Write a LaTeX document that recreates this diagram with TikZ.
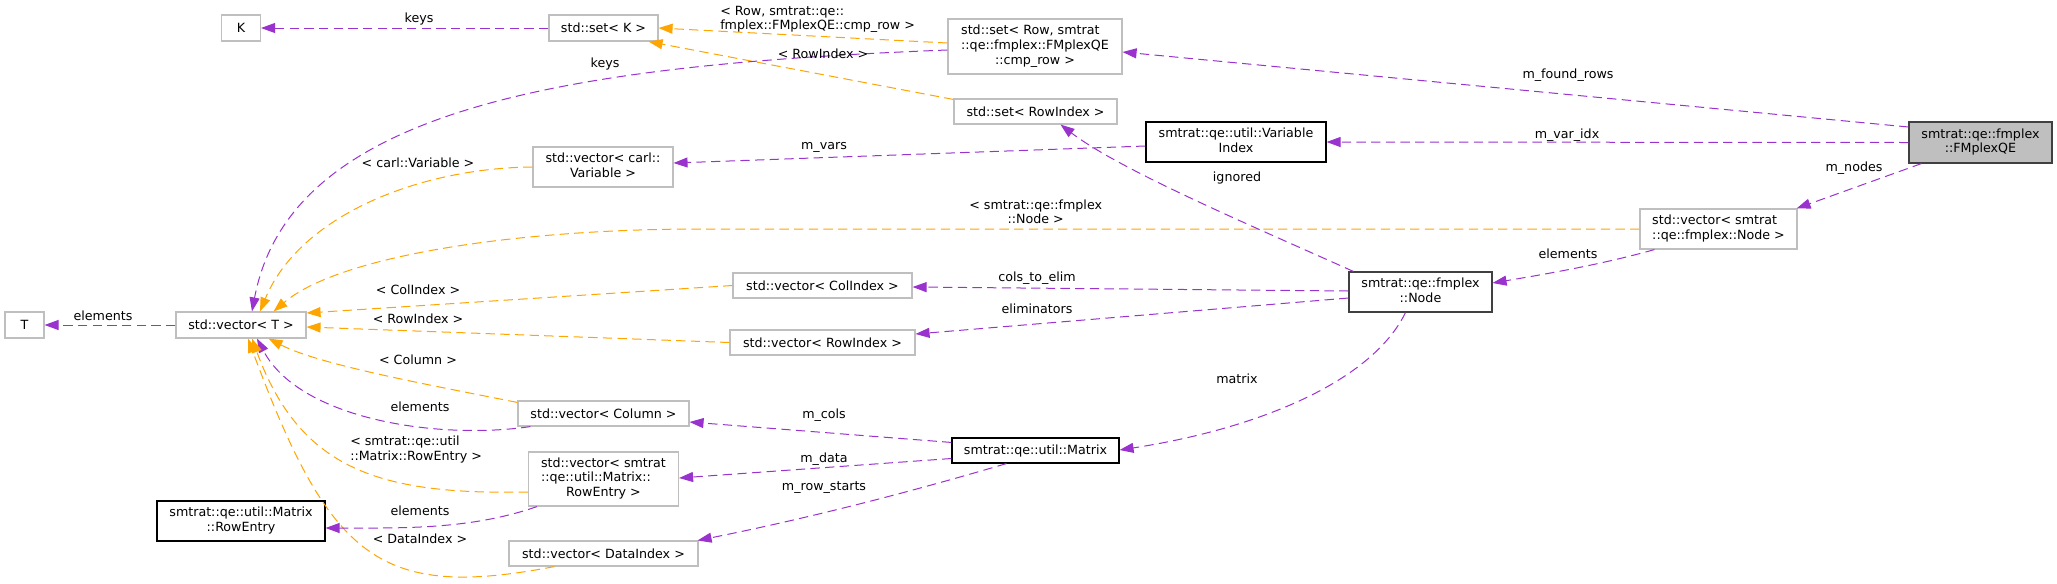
\documentclass[tikz,border=0pt]{standalone}
\usepackage{fontspec}
\setmainfont{DejaVu Sans}
\usetikzlibrary{arrows.meta,calc}
\definecolor{purp}{HTML}{9A32CD}
\definecolor{orng}{HTML}{FFA500}
\definecolor{bgray}{HTML}{BFBFBF}
\definecolor{dgray}{HTML}{404040}
\newcommand{\mlt}[2]{\begin{tabular}{@{}l@{}}#1\\\multicolumn{1}{@{}c@{}}{#2}\end{tabular}}
\tikzset{
  sz/.style 2 args={minimum width=#1*0.75pt, minimum height=#2*0.75pt},
  gbox/.style={draw=bgray, fill=white, line width=0.85pt, inner sep=0pt, rectangle},
  dbox/.style={draw=black, fill=white, line width=0.85pt, inner sep=0pt, rectangle},
  pe/.style={draw=purp, line width=0.75pt, dash pattern=on 7pt off 4pt, -{Triangle[length=10.5pt,width=7.5pt,fill=purp]}},
  oe/.style={draw=orng, line width=0.75pt, dash pattern=on 7pt off 4pt, -{Triangle[length=10.5pt,width=7.5pt,fill=orng]}},
  lab/.style={inner sep=0pt},
}
\begin{document}
\begin{tikzpicture}[x=0.75pt, y=-0.75pt, font=\fontsize{9.5}{11}\selectfont]
\useasboundingbox (0,0) rectangle (2057,583);
% nodes
\node[gbox, sz={39}{26}] (K) at (241,28) {K};
\node[gbox, sz={109}{26}] (setK) at (603.5,28) {std::set< K >};
\node[gbox, sz={174}{55}] (setRow) at (1035,46.5) {\mlt{std::set< Row, smtrat\\::qe::fmplex::FMplexQE}{::cmp\_row >}};
\node[gbox, sz={163}{25}] (setRI) at (1035.5,111.5) {std::set< RowIndex >};
\node[dbox, sz={180}{40}] (varidx) at (1236,142) {\mlt{smtrat::qe::util::Variable}{Index}};
\node[dbox, draw=dgray, fill=bgray, sz={143}{41}] (qe) at (1980.5,142.5) {\mlt{smtrat::qe::fmplex}{::FMplexQE}};
\node[gbox, sz={140}{40}] (carl) at (603,167) {\mlt{std::vector< carl::}{Variable >}};
\node[gbox, sz={157}{40}] (vnode) at (1718.5,229) {\mlt{std::vector< smtrat}{::qe::fmplex::Node >}};
\node[dbox, draw=dgray, sz={143}{40}] (node) at (1420.5,292) {\mlt{smtrat::qe::fmplex}{::Node}};
\node[gbox, sz={179}{25}] (vci) at (822.5,285.5) {std::vector< ColIndex >};
\node[gbox, sz={185}{25}] (vri) at (822.5,342.5) {std::vector< RowIndex >};
\node[gbox, sz={39}{26}] (T) at (24.5,325) {T};
\node[gbox, sz={130}{26}] (vT) at (241,325) {std::vector< T >};
\node[gbox, sz={171}{25}] (vcol) at (603.5,413.5) {std::vector< Column >};
\node[dbox, sz={167}{25}] (mat) at (1035.5,450.5) {smtrat::qe::util::Matrix};
\node[gbox, sz={150}{54}] (vre) at (603.5,479) {\mlt{std::vector< smtrat\\::qe::util::Matrix::}{RowEntry >}};
\node[dbox, sz={168}{40}] (re) at (241,521) {\mlt{smtrat::qe::util::Matrix}{::RowEntry}};
\node[gbox, sz={189}{25}] (vdi) at (603.5,553.5) {std::vector< DataIndex >};
% edges
\draw[pe] (setK.west) -- (K.east);
\draw[oe] ($(setRow.west)+(0,-3.5)$) -- (setK.east);
\draw[oe] ($(setRI.north west)+(0,1)$) -- ($(setK.south east)+(-10,0)$);
\draw[pe] ($(setRow.west)+(0,3.5)$) .. controls (560,65) and (290,110) .. ($(vT.north)+(11,0)$);
\draw[oe] (carl.west) .. controls (420,168) and (300,215) .. ($(vT.north)+(19,0)$);
\draw[oe] (vnode.west) -- (700,229) .. controls (520,229) and (340,255) .. ($(vT.north east)+(-33,0)$);
\draw[oe] (vci.west) -- ($(vT.east)+(0,-12)$);
\draw[oe] (vri.west) -- ($(vT.east)+(0,2)$);
\draw[oe] ($(vcol.north west)+(0,2)$) .. controls (430,385) and (320,365) .. ($(vT.south east)+(-38,0)$);
\draw[pe] ($(vcol.south west)+(13,0)$) .. controls (440,440) and (300,420) .. ($(vT.south)+(16,0)$);
\draw[oe] ($(vre.west)+(0,13)$) .. controls (380,495) and (300,470) .. ($(vT.south)+(11,0)$);
\draw[oe] ($(vdi.south west)+(46,0)$) .. controls (380,600) and (330,560) .. ($(vT.south)+(7,0)$);
\draw[pe] ($(vre.south west)+(9,0)$) .. controls (470,530) and (400,528) .. ($(re.east)+(0,7)$);
\draw[pe] ($(qe.west)+(0,-15.5)$) -- ($(setRow.east)+(0,5.5)$);
\draw[pe] (qe.west) -- (varidx.east);
\draw[pe] ($(qe.south west)+(13,0)$) -- ($(vnode.north east)+(-1,0)$);
\draw[pe] ($(varidx.west)+(0,4)$) -- ($(carl.east)+(0,-4)$);
\draw[pe] ($(vnode.south west)+(15,0)$) .. controls (1600,265) and (1540,275) .. ($(node.east)+(0,-9)$);
\draw[pe] ($(node.north west)+(5,0)$) .. controls (1250,225) and (1120,170) .. ($(setRI.south)+(25,0)$);
\draw[pe] ($(node.west)+(0,-1)$) -- ($(vci.east)+(0,1.5)$);
\draw[pe] ($(node.west)+(0,6)$) -- ($(vri.east)+(0,-8.5)$);
\draw[pe] ($(node.south)+(-15,0)$) .. controls (1370,385) and (1250,430) .. ($(mat.east)+(0,-0.5)$);
\draw[pe] ($(mat.north west)+(0,5)$) -- ($(vcol.east)+(0,8.5)$);
\draw[pe] ($(mat.west)+(0,8)$) -- ($(vre.east)+(0,-1)$);
\draw[pe] ($(mat.south west)+(55,0)$) .. controls (900,495) and (800,520) .. ($(vdi.north east)+(-1,0)$);
\draw[pe] (vT.west) -- (T.east);
% labels
\node[lab] (l1) at (419,19) {keys};
\node[lab, anchor=west] (l2) at (720,19.5) {\mlt{< Row, smtrat::qe::}{fmplex::FMplexQE::cmp\_row >}};
\node[lab] (l3) at (823,54) {< RowIndex >};
\node[lab] (l4) at (605,64) {keys};
\node[lab] (l5) at (1568,75) {m\_found\_rows};
\node[lab] (l6) at (1567,135) {m\_var\_idx};
\node[lab] (l7) at (824,147) {m\_vars};
\node[lab] (l8) at (1237,178) {ignored};
\node[lab] (l9) at (418,163) {< carl::Variable >};
\node[lab] (l10) at (1854,168) {m\_nodes};
\node[lab, anchor=west] (l11) at (969,213.5) {\mlt{< smtrat::qe::fmplex}{::Node >}};
\node[lab] (l12) at (1568,254) {elements};
\node[lab] (l13) at (1037,278) {cols\_to\_elim};
\node[lab] (l14) at (418,290) {< ColIndex >};
\node[lab] (l15) at (103,316) {elements};
\node[lab] (l16) at (418,319) {< RowIndex >};
\node[lab] (l17) at (1037,309) {eliminators};
\node[lab] (l18) at (1237,379) {matrix};
\node[lab] (l19) at (418,360) {< Column >};
\node[lab] (l20) at (420,407) {elements};
\node[lab] (l21) at (824,415) {m\_cols};
\node[lab, anchor=west] (l22) at (350,450) {\mlt{< smtrat::qe::util}{::Matrix::RowEntry >}};
\node[lab] (l23) at (824,459) {m\_data};
\node[lab] (l24) at (824,488) {m\_row\_starts};
\node[lab] (l25) at (420,511) {elements};
\node[lab] (l26) at (420,539) {< DataIndex >};
\end{tikzpicture}
\end{document}
